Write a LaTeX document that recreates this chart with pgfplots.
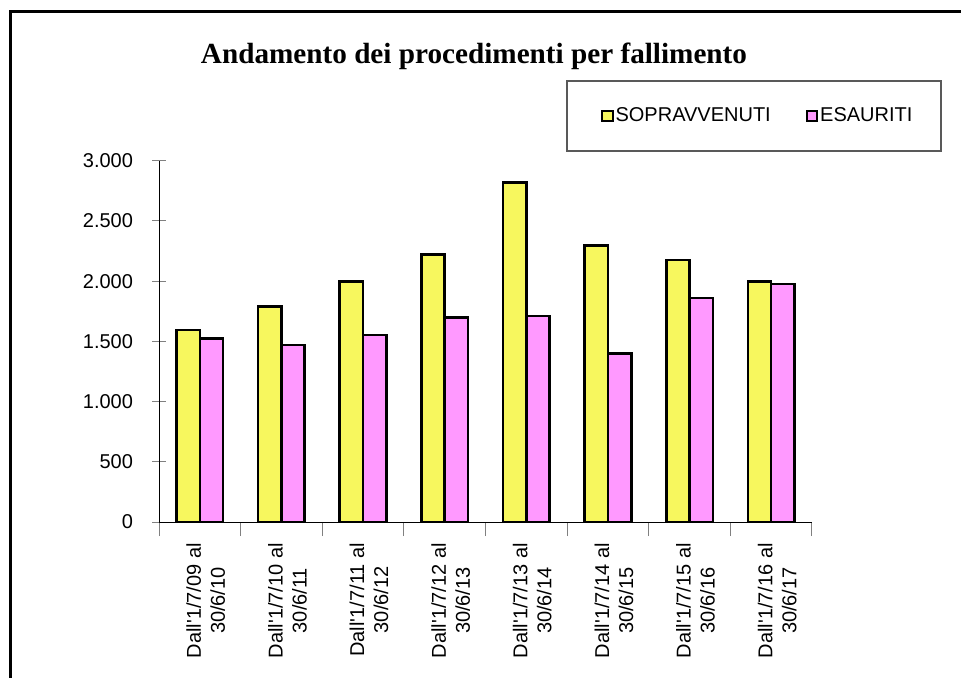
\documentclass[border=0pt]{standalone}
\usepackage{fontspec}
\setmainfont{Liberation Sans}
\newfontfamily\titlefont{Liberation Serif}
\usepackage{pgfplots}
\pgfplotsset{compat=1.18}
\definecolor{cSop}{HTML}{F7F75E}
\definecolor{cEsa}{HTML}{FF99FF}

\begin{document}
\begin{tikzpicture}
\path[use as bounding box] (0,0) rectangle (480.5pt,-338.5pt);
\begin{scope}[x=0.5pt,y=-0.5pt]
  \draw[line width=1.5pt] (10.5,700) -- (10.5,11) -- (990,11);
  \node[font=\titlefont\bfseries\fontsize{14.6}{18}\selectfont, anchor=base]
    at (474,63.5) {Andamento dei procedimenti per fallimento};
  \draw[black!65, line width=0.7pt] (567,81) rectangle (941,151);
\end{scope}
\begin{axis}[
  at={(79.5pt,-261pt)}, anchor=south west,
  scale only axis, width=326.5pt, height=180.65pt,
  axis lines=left, axis line style={black, line width=0.5pt, -},
  xmin=-0.5, xmax=7.5, ymin=0, ymax=3000,
  ytick={0,500,...,3000},
  xtick={-0.5,0.5,...,7.5},
  x tick label as interval,
  xticklabels={
    {Dall\textquotesingle1/7/09 al\\30/6/10},
    {Dall\textquotesingle1/7/10 al\\30/6/11},
    {Dall\textquotesingle1/7/11 al\\30/6/12},
    {Dall\textquotesingle1/7/12 al\\30/6/13},
    {Dall\textquotesingle1/7/13 al\\30/6/14},
    {Dall\textquotesingle1/7/14 al\\30/6/15},
    {Dall\textquotesingle1/7/15 al\\30/6/16},
    {Dall\textquotesingle1/7/16 al\\30/6/17}},
  xticklabel style={rotate=90, anchor=east, align=center,
    font=\fontsize{10}{12}\selectfont, yshift=-3pt},
  yticklabel style={font=\fontsize{10}{12}\selectfont, xshift=-6pt},
  tick align=center, major tick length=7pt,
  tick style={gray, line width=0.5pt},
  scaled y ticks=false,
  ybar=0pt, bar width=11.65pt,
  legend columns=2,
  legend image code/.code={\draw[#1, line width=1pt] (0pt,-2.6pt) rectangle (5.2pt,2.6pt);},
  legend style={draw=none, fill=none, at={(0.917,1.1237)}, anchor=center,
    font=\fontsize{10}{12}\selectfont,
    nodes={inner xsep=1pt, inner ysep=2pt},
    /tikz/every even column/.append style={column sep=16.5pt}},
  /pgf/number format/1000 sep={.},
  /pgf/number format/assume math mode=true,
]
\addplot[fill=cSop, draw=black, line width=1.3pt] coordinates {
  (0,1593) (1,1789) (2,1997) (3,2223) (4,2821) (5,2298) (6,2174) (7,1997)};
\addplot[fill=cEsa, draw=black, line width=1.3pt] coordinates {
  (0,1524) (1,1471) (2,1554) (3,1698) (4,1712) (5,1399) (6,1861) (7,1977)};
\legend{SOPRAVVENUTI, ESAURITI}
\end{axis}
\end{tikzpicture}
\end{document}
